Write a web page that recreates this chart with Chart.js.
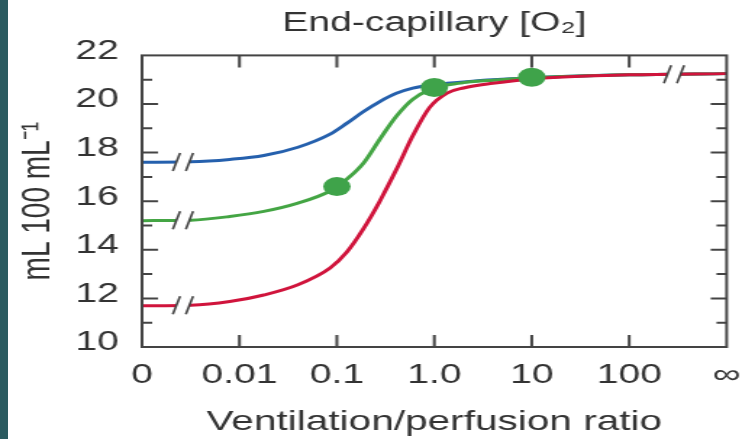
<!DOCTYPE html>
<html>
<head>
<meta charset="utf-8">
<script src="https://cdn.jsdelivr.net/npm/chart.js@4"></script>
<style>
  html, body { margin: 0; padding: 0; background: #fff; overflow: hidden; }
  #strip { position: absolute; left: 0; top: 0; width: 8px; height: 439px; background: #2b5b60; z-index: 2; }
  /* the original figure is drawn wide, so the chart is stretched sideways */
  #wrap { position: absolute; left: 0; top: 0; width: 512px; height: 439px; transform: scaleX(1.4492); transform-origin: 0 0; }
</style>
</head>
<body>
<div id="strip"></div>
<div id="wrap"><canvas id="chart"></canvas></div>
<script>
// x positions are log steps: 0 -> "0", 1 -> 0.01, 2 -> 0.1, 3 -> 1.0, 4 -> 10, 5 -> 100, 6 -> infinity
const tickLabels = ["0", "0.01", "0.1", "1.0", "10", "100", "\u221E"];
const positions = [0, 0.5, 0.9, 1.25, 1.6, 1.93, 2.1, 2.27, 2.44, 2.61, 2.78, 2.95, 3.13, 3.3, 3.6, 4, 5, 6];
const blueValues = [17.6, 17.62, 17.72, 17.88, 18.22, 18.76, 19.2, 19.68, 20.1, 20.44, 20.65, 20.77, 20.85, 20.91, 21.0, 21.08, 21.2, 21.25];
const greenValues = [15.2, 15.22, 15.37, 15.58, 15.92, 16.42, 16.9, 17.55, 18.55, 19.5, 20.2, 20.58, 20.78, 20.88, 20.98, 21.08, 21.2, 21.25];
const redValues = [11.7, 11.72, 11.87, 12.14, 12.56, 13.25, 13.9, 14.85, 16.0, 17.3, 18.7, 19.85, 20.45, 20.66, 20.85, 21.03, 21.2, 21.25];
const dotPositions = [2, 3, 4];
const dotValues = [16.6, 20.68, 21.1];
// axis break marks: [series, position]
const breakMarks = [["blue", 0.42], ["green", 0.42], ["red", 0.42], ["red", 5.46]];

const seriesValues = { blue: blueValues, green: greenValues, red: redValues };

function pts(xs, ys) {
    return xs.map((p, i) => ({ x: p, y: ys[i] }));
}

function valueAt(name, p) {
    const ys = seriesValues[name];
    for (let i = 1; i < positions.length; i++) {
        if (p <= positions[i]) {
            const t = (p - positions[i - 1]) / (positions[i] - positions[i - 1]);
            return ys[i - 1] + t * (ys[i] - ys[i - 1]);
        }
    }
    return ys[ys.length - 1];
}

const framePlugin = {
    id: "frame",
    afterDatasetsDraw(chart) {
        const { ctx, chartArea: a, scales: { x, y } } = chart;
        ctx.save();

        breakMarks.forEach(([name, p]) => {
            const px = x.getPixelForValue(p);
            const py = y.getPixelForValue(valueAt(name, p));
            ctx.fillStyle = "#fff";
            ctx.fillRect(px - 4.5, py - 3, 9, 6);
            ctx.strokeStyle = "#444";
            ctx.lineWidth = 1.6;
            [-4.5, 4.5].forEach(d => {
                ctx.beginPath();
                ctx.moveTo(px + d - 2.5, py + 9);
                ctx.lineTo(px + d + 2.5, py - 9);
                ctx.stroke();
            });
        });

        ctx.strokeStyle = "#444";
        ctx.lineWidth = 2;
        ctx.strokeRect(a.left, a.top, a.right - a.left, a.bottom - a.top);

        ctx.beginPath();
        for (let v = 11; v < 22; v++) {
            const py = y.getPixelForValue(v);
            const len = v % 2 ? 7 : 11;
            ctx.moveTo(a.left, py); ctx.lineTo(a.left + len, py);
            ctx.moveTo(a.right, py); ctx.lineTo(a.right - len, py);
        }
        for (let p = 1; p <= 5; p++) {
            const px = x.getPixelForValue(p);
            ctx.moveTo(px, a.bottom); ctx.lineTo(px, a.bottom - 12);
            ctx.moveTo(px, a.top); ctx.lineTo(px, a.top + 12);
        }
        ctx.stroke();
        ctx.restore();
    }
};

Chart.defaults.font.family = '"Liberation Sans", Arial, sans-serif';
Chart.defaults.color = "#333";

const ctx = document.getElementById("chart").getContext("2d");
new Chart(ctx, {
    type: "line",
    data: {
        datasets: [
            { label: "dots", data: pts(dotPositions, dotValues), showLine: false, pointRadius: 9.5, pointBackgroundColor: "#3fa34a", pointBorderWidth: 0, order: 0 },
            { label: "red", data: pts(positions, redValues), borderColor: "#d0143c", borderWidth: 3, pointRadius: 0, cubicInterpolationMode: "monotone", order: 1 },
            { label: "green", data: pts(positions, greenValues), borderColor: "#44a544", borderWidth: 3, pointRadius: 0, cubicInterpolationMode: "monotone", order: 2 },
            { label: "blue", data: pts(positions, blueValues), borderColor: "#2560ad", borderWidth: 3, pointRadius: 0, cubicInterpolationMode: "monotone", order: 3 }
        ]
    },
    options: {
        responsive: true,
        maintainAspectRatio: false,
        animation: false,
        events: [],
        layout: { padding: { left: 0, right: 10.6, top: 0, bottom: 0 } },
        plugins: {
            legend: { display: false },
            tooltip: { enabled: false },
            title: {
                display: true,
                fullSize: false,
                text: "End-capillary [O\u2082]",
                font: { size: 27, weight: "normal" },
                color: "#333",
                padding: { top: 7, bottom: 16 }
            }
        },
        scales: {
            x: {
                type: "linear",
                min: 0,
                max: 6,
                grid: { display: false, drawTicks: false },
                border: { display: false },
                ticks: {
                    stepSize: 1,
                    padding: 12,
                    font: { size: 27 },
                    maxRotation: 0,
                    callback: v => tickLabels[v]
                },
                title: {
                    display: true,
                    text: "Ventilation/perfusion ratio",
                    font: { size: 28 },
                    padding: { top: 0, bottom: 0 }
                },
                afterFit(scale) {
                    scale.height = 92;
                    scale.paddingLeft = 0;
                    scale.paddingRight = 0;
                }
            },
            y: {
                min: 10,
                max: 22,
                grid: { display: false, drawTicks: false },
                border: { display: false },
                ticks: {
                    stepSize: 2,
                    padding: 16,
                    labelOffset: -4,
                    font: { size: 27 }
                },
                title: {
                    display: true,
                    text: "mL 100 mL\u207B\u00B9",
                    font: { size: 28 },
                    padding: { top: 9, bottom: 0 }
                },
                afterFit(scale) {
                    scale.width = 98;
                    scale.paddingTop = 0;
                    scale.paddingBottom = 0;
                }
            }
        }
    },
    plugins: [framePlugin]
});
</script>
</body>
</html>
